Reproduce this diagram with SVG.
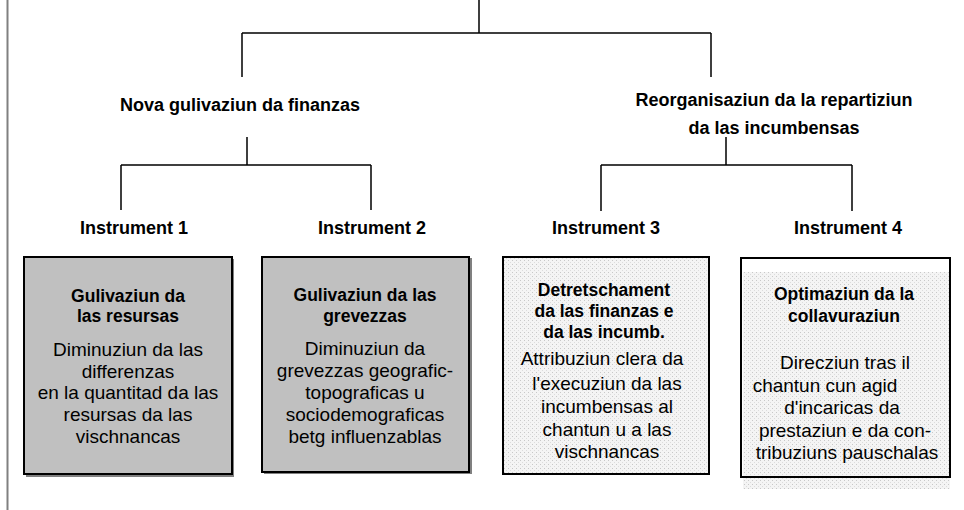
<svg xmlns="http://www.w3.org/2000/svg" width="964" height="510" viewBox="0 0 964 510">
<defs>
<pattern id="dots" width="4" height="4" patternUnits="userSpaceOnUse">
<rect width="4" height="4" fill="#f4f4f4"/>
<rect x="0" y="0" width="1" height="1" fill="#c8c8c8"/>
<rect x="2" y="2" width="1" height="1" fill="#dcdcdc"/>
</pattern>
</defs>
<style>
.ln{stroke:#000;stroke-width:1.5;fill:none}
.lbl{font-family:"Liberation Sans",Arial,sans-serif;font-weight:bold;font-size:18px;fill:#000;text-anchor:middle}
.ins{font-family:"Liberation Sans",Arial,sans-serif;font-weight:bold;font-size:18px;fill:#000;text-anchor:middle}
.tt{font-family:"Liberation Sans",Arial,sans-serif;font-weight:bold;font-size:17.5px;fill:#000;text-anchor:middle}
.bd{font-family:"Liberation Sans",Arial,sans-serif;font-size:19px;fill:#000;text-anchor:middle}
.box{stroke:#000;stroke-width:2}
.gray{fill:#c0c0c0}
</style>
<rect width="964" height="510" fill="#fff"/>
<line x1="7.5" y1="0" x2="7.5" y2="510" stroke="#808080" stroke-width="2"/>
<g id="connectors">
<path class="ln" d="M479,0 V33 M242,33 H711 M242,33 V77 M711,33 V77"/>
<path class="ln" d="M247,137 V165 M121,165 H371 M121,165 V210 M371,165 V210"/>
<path class="ln" d="M726,137 V165 M601,165 H852 M601,165 V211 M852,165 V211"/>
</g>
<g id="n-left"><text class="lbl" x="240" y="111">Nova gulivaziun da finanzas</text></g>
<g id="n-right"><text class="lbl" x="774" y="106">Reorganisaziun da la repartiziun</text><text class="lbl" x="774" y="134">da las incumbensas</text></g>
<g id="i1"><text class="ins" x="134" y="234">Instrument 1</text></g>
<g id="i2"><text class="ins" x="372" y="234">Instrument 2</text></g>
<g id="i3"><text class="ins" x="606" y="234">Instrument 3</text></g>
<g id="i4"><text class="ins" x="848" y="234">Instrument 4</text></g>
<g id="b1">
<rect x="26" y="259" width="208" height="218" fill="#808080"/>
<rect class="box gray" x="24" y="257" width="208" height="217"/>
<text class="tt" x="128" y="302">Gulivaziun da</text>
<text class="tt" x="128" y="322">las resursas</text>
<text class="bd" x="128" y="356">Diminuziun da las</text>
<text class="bd" x="128" y="378">differenzas</text>
<text class="bd" x="128" y="399">en la quantitad da las</text>
<text class="bd" x="128" y="421">resursas da las</text>
<text class="bd" x="128" y="443">vischnancas</text>
</g>
<g id="b2">
<rect x="264" y="258" width="208" height="216" fill="#808080"/>
<rect class="box gray" x="262" y="257" width="207" height="215"/>
<text class="tt" x="365" y="301">Gulivaziun da las</text>
<text class="tt" x="365" y="322">grevezzas</text>
<text class="bd" x="365" y="355">Diminuziun da</text>
<text class="bd" x="365" y="377">grevezzas geografic-</text>
<text class="bd" x="365" y="399">topograficas u</text>
<text class="bd" x="365" y="421">sociodemograficas</text>
<text class="bd" x="365" y="443">betg influenzablas</text>
</g>
<g id="b3">
<rect class="box" x="503" y="257" width="206" height="217" fill="url(#dots)"/>
<text class="tt" x="604" y="296">Detretschament</text>
<text class="tt" x="604" y="317">da las finanzas e</text>
<text class="tt" x="604" y="338">da las incumb.</text>
<text class="bd" x="602" y="365">Attribuziun clera da</text>
<text class="bd" x="607" y="390">l'execuziun da las</text>
<text class="bd" x="607" y="413">incumbensas al</text>
<text class="bd" x="607" y="436">chantun u a las</text>
<text class="bd" x="607" y="458">vischnancas</text>
</g>
<g id="b4">
<rect x="741" y="258" width="209" height="219" fill="#fff" stroke="#000" stroke-width="2"/>
<rect x="743" y="272" width="207" height="217" fill="url(#dots)"/>
<path d="M741,258 H950 V477 H741 Z" fill="none" stroke="#000" stroke-width="2"/>
<text class="tt" x="844" y="300">Optimaziun da la</text>
<text class="tt" x="844" y="322">collavuraziun</text>
<text class="bd" x="845" y="369">Direcziun tras il</text>
<text class="bd" x="825" y="392">chantun cun agid</text>
<text class="bd" x="842" y="414">d'incaricas da</text>
<text class="bd" x="845" y="437">prestaziun e da con-</text>
<text class="bd" x="847" y="459">tribuziuns pauschalas</text>
</g>
</svg>
